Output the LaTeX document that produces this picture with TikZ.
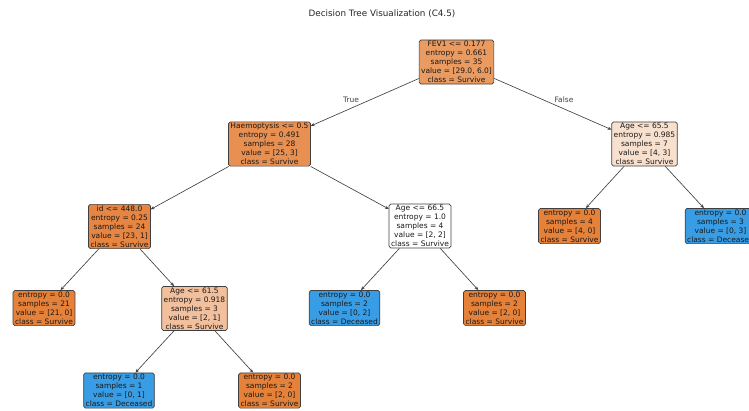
\documentclass[tikz,border=0pt]{standalone}
\usepackage{fontspec}
\setmainfont{DejaVu Sans}
\usepackage{tikz}
\newcommand{\treefont}{\fontsize{6.4}{7.6}\selectfont}
\definecolor{survive}{RGB}{229,129,57}
\definecolor{deceased}{RGB}{57,157,229}
\definecolor{fevFill}{RGB}{234,155,98}
\definecolor{haemFill}{RGB}{232,144,81}
\definecolor{idFill}{RGB}{230,134,66}
\definecolor{ageLowFill}{RGB}{242,192,156}
\definecolor{ageHighFill}{RGB}{248,224,206}
\usetikzlibrary{arrows.meta}
\tikzset{
  >={Stealth[length=3.2pt,width=2.8pt]},
  font=\treefont,
  box/.style={draw=black!75,line width=0.6pt,shape=rectangle,rounded corners=1.5pt,align=center,inner xsep=1.7pt,inner ysep=1.2pt,text=black!90},
  leafS/.style={box,fill=survive},
  leafD/.style={box,fill=deceased},
  line/.style={draw,->,black!75,line width=0.55pt},
  branch/.style={text=black!75},
}
\begin{document}
\begin{tikzpicture}[x=0.03cm,y=-0.03cm]
      \useasboundingbox (0,0) rectangle (749,410);
      \node (title) at (382,14) [font=\fontsize{7.5}{9}\selectfont,text=black!85] {Decision Tree Visualization (C4.5)};
      % split nodes
      \node (fev) at (456.5,62) [box,fill=fevFill] {FEV1 <= 0.177\\entropy = 0.661\\samples = 35\\value = [29.0, 6.0]\\class = Survive};
      \node (haem) at (269.5,144) [box,fill=haemFill] {Haemoptysis <= 0.5\\entropy = 0.491\\samples = 28\\value = [25, 3]\\class = Survive};
      \node (age3) at (644.5,144) [box,fill=ageHighFill] {Age <= 65.5\\entropy = 0.985\\samples = 7\\value = [4, 3]\\class = Survive};
      \node (id) at (119.5,226.5) [box,fill=idFill] {id <= 448.0\\entropy = 0.25\\samples = 24\\value = [23, 1]\\class = Survive};
      \node (age2) at (420,226) [box,fill=white] {Age <= 66.5\\entropy = 1.0\\samples = 4\\value = [2, 2]\\class = Survive};
      \node (age1) at (194.5,308.5) [box,fill=ageLowFill] {Age <= 61.5\\entropy = 0.918\\samples = 3\\value = [2, 1]\\class = Survive};
      % leaves
      \node (sv21) at (44,308) [leafS] {entropy = 0.0\\samples = 21\\value = [21, 0]\\class = Survive};
      \node (dc1) at (119,390.5) [leafD] {entropy = 0.0\\samples = 1\\value = [0, 1]\\class = Deceased};
      \node (sv2a) at (269.5,390.5) [leafS] {entropy = 0.0\\samples = 2\\value = [2, 0]\\class = Survive};
      \node (dc2) at (344.5,308) [leafD] {entropy = 0.0\\samples = 2\\value = [0, 2]\\class = Deceased};
      \node (sv2b) at (494.5,308) [leafS] {entropy = 0.0\\samples = 2\\value = [2, 0]\\class = Survive};
      \node (sv4) at (569.5,226) [leafS] {entropy = 0.0\\samples = 4\\value = [4, 0]\\class = Survive};
      \node (dc3) at (720.5,226) [leafD] {entropy = 0.0\\samples = 3\\value = [0, 3]\\class = Deceased};
      % edges
      \path [line] (fev) -- (haem);
      \path [line] (fev) -- (age3);
      \path [line] (haem) -- (id);
      \path [line] (haem) -- (age2);
      \path [line] (id) -- (sv21);
      \path [line] (id) -- (age1);
      \path [line] (age1) -- (dc1);
      \path [line] (age1) -- (sv2a);
      \path [line] (age2) -- (dc2);
      \path [line] (age2) -- (sv2b);
      \path [line] (age3) -- (sv4);
      \path [line] (age3) -- (dc3);
      \node (yes) at (351,100) [branch] {True};
      \node (no) at (564,100) [branch] {False};
    \end{tikzpicture}
\end{document}
